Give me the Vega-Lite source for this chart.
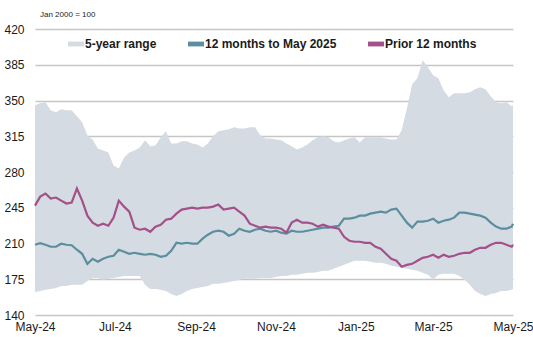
{
  "$schema": "https://vega.github.io/schema/vega-lite/v6.json",
  "width": 478,
  "height": 286,
  "autosize": {"type": "none"},
  "padding": {"left": 35, "top": 29, "right": 20, "bottom": 22},
  "background": "white",
  "config": {
    "view": {"stroke": null},
    "font": "Liberation Sans",
    "axis": {"labelFont": "Liberation Sans", "labelFontSize": 12, "labelColor": "#1a1a1a"}
  },
  "title": {"text": "Jan 2000 = 100", "anchor": "start", "frame": "group", "fontSize": 8, "fontWeight": "normal", "font": "Liberation Sans", "color": "#1a1a1a", "offset": 4, "dx": 5},
  "data": {"values": [
    {"date": "2024-05-01", "lo": 162.6, "hi": 345.3, "cur": 208.8, "prior": 247.1},
    {"date": "2024-05-05", "lo": 163.6, "hi": 347.3, "cur": 210.3, "prior": 255.9},
    {"date": "2024-05-09", "lo": 164.6, "hi": 348.3, "cur": 208.8, "prior": 258.9},
    {"date": "2024-05-13", "lo": 165.5, "hi": 340.4, "cur": 206.8, "prior": 254.0},
    {"date": "2024-05-17", "lo": 166.5, "hi": 338.5, "cur": 206.8, "prior": 255.0},
    {"date": "2024-05-21", "lo": 168.5, "hi": 341.4, "cur": 209.8, "prior": 252.0},
    {"date": "2024-05-25", "lo": 168.5, "hi": 340.4, "cur": 208.8, "prior": 249.1},
    {"date": "2024-05-29", "lo": 169.5, "hi": 340.4, "cur": 208.3, "prior": 250.0},
    {"date": "2024-06-02", "lo": 169.5, "hi": 334.5, "cur": 203.9, "prior": 263.8},
    {"date": "2024-06-06", "lo": 169.5, "hi": 328.6, "cur": 199.9, "prior": 252.0},
    {"date": "2024-06-10", "lo": 173.4, "hi": 315.9, "cur": 190.1, "prior": 237.3},
    {"date": "2024-06-14", "lo": 176.3, "hi": 311.9, "cur": 195.0, "prior": 230.4},
    {"date": "2024-06-18", "lo": 176.3, "hi": 303.1, "cur": 192.1, "prior": 227.4},
    {"date": "2024-06-22", "lo": 174.4, "hi": 301.1, "cur": 195.0, "prior": 229.4},
    {"date": "2024-06-26", "lo": 175.4, "hi": 299.2, "cur": 197.0, "prior": 227.4},
    {"date": "2024-06-30", "lo": 176.3, "hi": 286.4, "cur": 198.0, "prior": 235.3},
    {"date": "2024-07-04", "lo": 177.3, "hi": 283.4, "cur": 203.9, "prior": 252.0},
    {"date": "2024-07-08", "lo": 178.3, "hi": 294.2, "cur": 201.9, "prior": 246.1},
    {"date": "2024-07-12", "lo": 178.3, "hi": 299.2, "cur": 199.9, "prior": 241.2},
    {"date": "2024-07-16", "lo": 178.3, "hi": 301.1, "cur": 200.9, "prior": 225.5},
    {"date": "2024-07-20", "lo": 178.3, "hi": 304.1, "cur": 199.9, "prior": 223.5},
    {"date": "2024-07-24", "lo": 169.5, "hi": 311.0, "cur": 199.0, "prior": 224.5},
    {"date": "2024-07-28", "lo": 165.5, "hi": 305.1, "cur": 199.9, "prior": 221.5},
    {"date": "2024-08-01", "lo": 165.5, "hi": 306.0, "cur": 199.0, "prior": 226.5},
    {"date": "2024-08-05", "lo": 164.6, "hi": 313.9, "cur": 197.0, "prior": 228.4},
    {"date": "2024-08-09", "lo": 163.6, "hi": 319.8, "cur": 198.0, "prior": 233.3},
    {"date": "2024-08-13", "lo": 160.6, "hi": 308.0, "cur": 202.9, "prior": 234.3},
    {"date": "2024-08-17", "lo": 158.7, "hi": 308.0, "cur": 210.7, "prior": 239.2},
    {"date": "2024-08-21", "lo": 160.6, "hi": 310.0, "cur": 209.8, "prior": 243.2},
    {"date": "2024-08-25", "lo": 163.6, "hi": 310.0, "cur": 210.7, "prior": 244.1},
    {"date": "2024-08-29", "lo": 165.5, "hi": 308.0, "cur": 209.8, "prior": 245.1},
    {"date": "2024-09-02", "lo": 166.5, "hi": 307.0, "cur": 209.8, "prior": 244.1},
    {"date": "2024-09-06", "lo": 167.5, "hi": 304.1, "cur": 214.7, "prior": 245.1},
    {"date": "2024-09-10", "lo": 168.5, "hi": 308.0, "cur": 218.6, "prior": 245.1},
    {"date": "2024-09-14", "lo": 170.5, "hi": 314.9, "cur": 221.5, "prior": 246.1},
    {"date": "2024-09-18", "lo": 170.5, "hi": 319.8, "cur": 222.5, "prior": 248.1},
    {"date": "2024-09-22", "lo": 171.4, "hi": 320.8, "cur": 221.5, "prior": 243.2},
    {"date": "2024-09-26", "lo": 172.4, "hi": 321.8, "cur": 217.6, "prior": 244.1},
    {"date": "2024-09-30", "lo": 173.4, "hi": 323.7, "cur": 219.6, "prior": 245.1},
    {"date": "2024-10-04", "lo": 174.4, "hi": 322.7, "cur": 224.5, "prior": 241.2},
    {"date": "2024-10-08", "lo": 175.4, "hi": 322.7, "cur": 222.5, "prior": 237.3},
    {"date": "2024-10-12", "lo": 175.4, "hi": 323.7, "cur": 221.5, "prior": 229.4},
    {"date": "2024-10-16", "lo": 175.4, "hi": 323.7, "cur": 223.5, "prior": 227.4},
    {"date": "2024-10-20", "lo": 176.3, "hi": 315.9, "cur": 224.5, "prior": 225.5},
    {"date": "2024-10-24", "lo": 176.3, "hi": 312.9, "cur": 222.5, "prior": 226.5},
    {"date": "2024-10-28", "lo": 176.3, "hi": 312.9, "cur": 221.5, "prior": 225.5},
    {"date": "2024-11-01", "lo": 177.3, "hi": 311.9, "cur": 222.5, "prior": 225.5},
    {"date": "2024-11-05", "lo": 178.3, "hi": 311.0, "cur": 220.6, "prior": 224.5},
    {"date": "2024-11-09", "lo": 178.3, "hi": 308.0, "cur": 219.6, "prior": 220.6},
    {"date": "2024-11-13", "lo": 179.3, "hi": 305.1, "cur": 222.5, "prior": 230.4},
    {"date": "2024-11-17", "lo": 179.3, "hi": 302.1, "cur": 221.5, "prior": 233.3},
    {"date": "2024-11-21", "lo": 180.3, "hi": 304.1, "cur": 221.5, "prior": 230.4},
    {"date": "2024-11-25", "lo": 181.3, "hi": 307.0, "cur": 222.5, "prior": 230.4},
    {"date": "2024-11-29", "lo": 181.3, "hi": 311.0, "cur": 223.5, "prior": 229.4},
    {"date": "2024-12-03", "lo": 182.2, "hi": 313.9, "cur": 224.5, "prior": 226.5},
    {"date": "2024-12-07", "lo": 183.2, "hi": 314.9, "cur": 225.5, "prior": 228.4},
    {"date": "2024-12-11", "lo": 183.2, "hi": 313.9, "cur": 225.5, "prior": 226.5},
    {"date": "2024-12-15", "lo": 185.2, "hi": 310.0, "cur": 226.5, "prior": 225.5},
    {"date": "2024-12-19", "lo": 187.2, "hi": 309.0, "cur": 227.4, "prior": 224.5},
    {"date": "2024-12-23", "lo": 189.1, "hi": 311.0, "cur": 234.3, "prior": 216.6},
    {"date": "2024-12-27", "lo": 191.1, "hi": 312.9, "cur": 234.3, "prior": 212.7},
    {"date": "2024-12-31", "lo": 193.1, "hi": 313.9, "cur": 235.3, "prior": 211.7},
    {"date": "2025-01-04", "lo": 193.1, "hi": 309.0, "cur": 237.3, "prior": 211.7},
    {"date": "2025-01-08", "lo": 193.1, "hi": 313.9, "cur": 237.3, "prior": 210.7},
    {"date": "2025-01-12", "lo": 192.1, "hi": 313.9, "cur": 239.2, "prior": 210.7},
    {"date": "2025-01-16", "lo": 191.1, "hi": 313.9, "cur": 240.2, "prior": 206.8},
    {"date": "2025-01-20", "lo": 191.1, "hi": 313.9, "cur": 241.2, "prior": 204.8},
    {"date": "2025-01-24", "lo": 190.1, "hi": 312.9, "cur": 240.2, "prior": 199.9},
    {"date": "2025-01-28", "lo": 188.1, "hi": 311.9, "cur": 243.2, "prior": 195.0},
    {"date": "2025-02-01", "lo": 187.2, "hi": 311.9, "cur": 244.1, "prior": 193.1},
    {"date": "2025-02-05", "lo": 186.2, "hi": 320.8, "cur": 237.3, "prior": 187.2},
    {"date": "2025-02-09", "lo": 185.2, "hi": 342.4, "cur": 230.4, "prior": 189.1},
    {"date": "2025-02-13", "lo": 184.2, "hi": 366.0, "cur": 225.5, "prior": 190.1},
    {"date": "2025-02-17", "lo": 183.2, "hi": 371.9, "cur": 231.4, "prior": 193.1},
    {"date": "2025-02-21", "lo": 181.3, "hi": 389.5, "cur": 231.4, "prior": 196.0},
    {"date": "2025-02-25", "lo": 179.3, "hi": 382.7, "cur": 232.3, "prior": 197.0},
    {"date": "2025-03-01", "lo": 174.4, "hi": 374.8, "cur": 234.3, "prior": 199.0},
    {"date": "2025-03-05", "lo": 179.3, "hi": 371.9, "cur": 230.4, "prior": 196.0},
    {"date": "2025-03-09", "lo": 180.3, "hi": 360.1, "cur": 232.3, "prior": 199.0},
    {"date": "2025-03-13", "lo": 180.3, "hi": 353.2, "cur": 233.3, "prior": 197.0},
    {"date": "2025-03-17", "lo": 180.3, "hi": 357.1, "cur": 235.3, "prior": 198.0},
    {"date": "2025-03-21", "lo": 178.3, "hi": 357.1, "cur": 240.2, "prior": 199.9},
    {"date": "2025-03-25", "lo": 174.4, "hi": 357.1, "cur": 240.2, "prior": 200.9},
    {"date": "2025-03-29", "lo": 169.5, "hi": 358.1, "cur": 239.2, "prior": 200.9},
    {"date": "2025-04-02", "lo": 163.6, "hi": 361.1, "cur": 238.2, "prior": 203.9},
    {"date": "2025-04-06", "lo": 160.6, "hi": 363.0, "cur": 237.3, "prior": 205.8},
    {"date": "2025-04-10", "lo": 158.7, "hi": 361.1, "cur": 235.3, "prior": 205.8},
    {"date": "2025-04-14", "lo": 160.6, "hi": 354.2, "cur": 230.4, "prior": 208.8},
    {"date": "2025-04-18", "lo": 161.6, "hi": 348.3, "cur": 226.5, "prior": 210.7},
    {"date": "2025-04-22", "lo": 163.6, "hi": 347.3, "cur": 224.5, "prior": 210.7},
    {"date": "2025-04-26", "lo": 163.6, "hi": 348.3, "cur": 224.5, "prior": 208.8},
    {"date": "2025-04-30", "lo": 164.6, "hi": 344.4, "cur": 226.5, "prior": 206.8},
    {"date": "2025-05-01", "lo": 165.5, "hi": 345.3, "cur": 229.4, "prior": 208.8}
  ]},
  "encoding": {
    "x": {
      "field": "date", "type": "temporal",
      "scale": {"type": "utc", "domain": [{"year": 2024, "month": 5, "date": 1, "utc": true}, {"year": 2025, "month": 5, "date": 1, "utc": true}]},
      "axis": {
        "title": null, "format": "%b-%y", "grid": false, "domain": false, "ticks": false, "labelPadding": 6, "labelFlush": false, "labelOverlap": false, "tickCount": 20,
        "values": [
          {"year": 2024, "month": 5, "date": 1, "utc": true},
          {"year": 2024, "month": 7, "date": 1, "utc": true},
          {"year": 2024, "month": 9, "date": 1, "utc": true},
          {"year": 2024, "month": 11, "date": 1, "utc": true},
          {"year": 2025, "month": 1, "date": 1, "utc": true},
          {"year": 2025, "month": 3, "date": 1, "utc": true},
          {"year": 2025, "month": 5, "date": 1, "utc": true}
        ]
      }
    }
  },
  "layer": [
    {
      "mark": {"type": "area", "opacity": 1},
      "encoding": {
        "y": {"field": "lo", "type": "quantitative", "scale": {"domain": [140, 420], "nice": false, "zero": false},
          "axis": {"title": null, "values": [140, 175, 210, 245, 280, 315, 350, 385, 420], "tickCount": 20, "labelOverlap": false, "domain": false, "ticks": false, "labelPadding": 11, "gridColor": "#c6c6c6", "gridWidth": 1.6}},
        "y2": {"field": "hi"},
        "color": {"datum": "5-year range", "type": "nominal",
          "scale": {"domain": ["5-year range", "12 months to May 2025", "Prior 12 months"], "range": ["#d5dbe2", "#5b8e9f", "#a4508b"]},
          "legend": {
            "title": null, "orient": "none", "direction": "horizontal", "legendX": 33, "legendY": 7, "padding": 0,
            "labelFont": "Liberation Sans", "labelFontSize": 12, "labelFontWeight": "bold", "labelColor": "#1a1a1a", "labelOffset": 1,
            "columnPadding": 31, "symbolSize": 256, "symbolStrokeWidth": 0,
            "symbolType": "M-1,-0.3H1V0.3H-1Z",
            "encode": {"symbols": {"update": {
              "fill": {"scale": "color", "field": "value"},
              "stroke": {"value": "transparent"},
              "opacity": {"value": 1},
              "shape": {"signal": "datum.value === '5-year range' ? 'M-0.9,-0.35H0.9V0.35H-0.9Z' : 'M-1,-0.14H1V0.14H-1Z'"}
            }}}
          }
        }
      }
    },
    {
      "mark": {"type": "line", "strokeWidth": 2.2},
      "encoding": {
        "y": {"field": "cur", "type": "quantitative"},
        "color": {"datum": "12 months to May 2025", "type": "nominal"}
      }
    },
    {
      "mark": {"type": "line", "strokeWidth": 2.2},
      "encoding": {
        "y": {"field": "prior", "type": "quantitative"},
        "color": {"datum": "Prior 12 months", "type": "nominal"}
      }
    }
  ]
}
